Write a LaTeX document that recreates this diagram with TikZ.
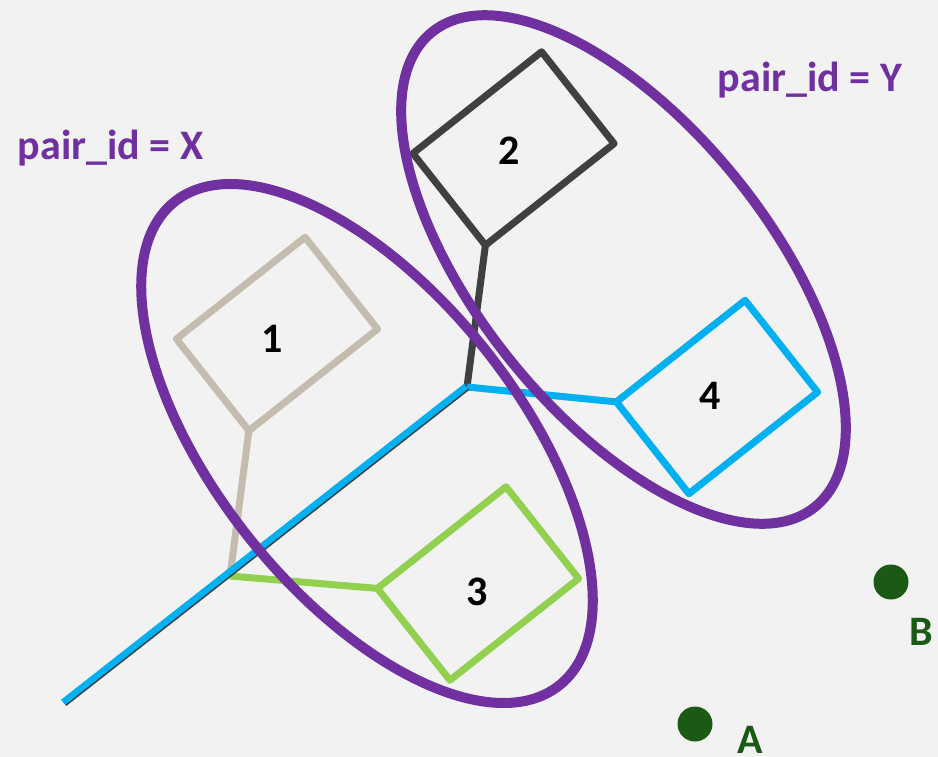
\documentclass[tikz,border=0pt]{standalone}
\usepackage{fontspec}
\setmainfont{Carlito}
\definecolor{purp}{HTML}{7030A0}
\definecolor{skyb}{HTML}{00B0F0}
\definecolor{lgreen}{HTML}{92D050}
\definecolor{beige}{HTML}{C4BCAF}
\definecolor{dgrey}{HTML}{404040}
\definecolor{dgreen}{HTML}{1B5A14}
\definecolor{bg}{HTML}{F2F2F2}
\begin{document}
\begin{tikzpicture}[x=1pt,y=-1pt,
  box/.style={draw, line width=7pt, rectangle, inner sep=0pt, outer sep=0pt,
    minimum width=164pt, minimum height=117pt, rotate=38.3, line join=round},
  lbl/.style={font=\fontsize{42}{50}\selectfont\bfseries, anchor=base, inner sep=0pt},
  conn/.style={line width=7pt, line join=round},
  ring/.style={draw=purp, line width=10pt},
  dot/.style={circle, fill=dgreen, minimum size=35pt, inner sep=0pt}]
\fill[bg] (0,0) rectangle (938,757);
\useasboundingbox (0,0) rectangle (938,757);

% boxes
\node[box, draw=beige]  (r1) at (277,334)   {};
\node[box, draw=dgrey]  (r2) at (513.5,148.5) {};
\node[box, draw=lgreen] (r3) at (478,583.5) {};
\node[box, draw=skyb]   (r4) at (717,397)   {};

% junction coordinates
\coordinate (c0) at (64,703);
\coordinate (c1) at (230,576);
\coordinate (c2) at (467,387);

% connectors
\draw[conn, beige] (r1.south west) -- (c1);
\draw[conn, lgreen] (c1) -- (r3.north west);
\draw[conn, dgrey] (r2.south west) -- (c2);
\draw[conn, skyb] (c2) -- (r4.north west);
\draw[line width=7.5pt, dgrey] (c0) -- (c2);
\draw[line width=6.5pt, skyb, transform canvas={shift={(-0.8pt,0.8pt)}}] (c0) -- (c2);

% numbers
\node[lbl] (n1) at (272,352) {1};
\node[lbl] (n2) at (509,165) {2};
\node[lbl] (n3) at (477,605) {3};
\node[lbl] (n4) at (710,409) {4};

% rings
\draw[ring, rotate around={-51.5:(367,443.5)}] (367,443.5) ellipse [x radius=309pt, y radius=151pt];
\draw[ring, rotate around={-51.1:(623.5,269.5)}] (623.5,269.5) ellipse [x radius=305pt, y radius=145pt];

% labels
\node[lbl, text=purp] (px) at (110.5,160) {pair\_id = X};
\node[lbl, text=purp] (py) at (810,92) {pair\_id = Y};

% points
\node[dot] (pB) at (891,582) {};
\node[dot] (pA) at (695,724) {};
\node[lbl, text=dgreen] (lB) at (921,645) {B};
\node[lbl, text=dgreen] (lA) at (750,753) {A};
\end{tikzpicture}
\end{document}
